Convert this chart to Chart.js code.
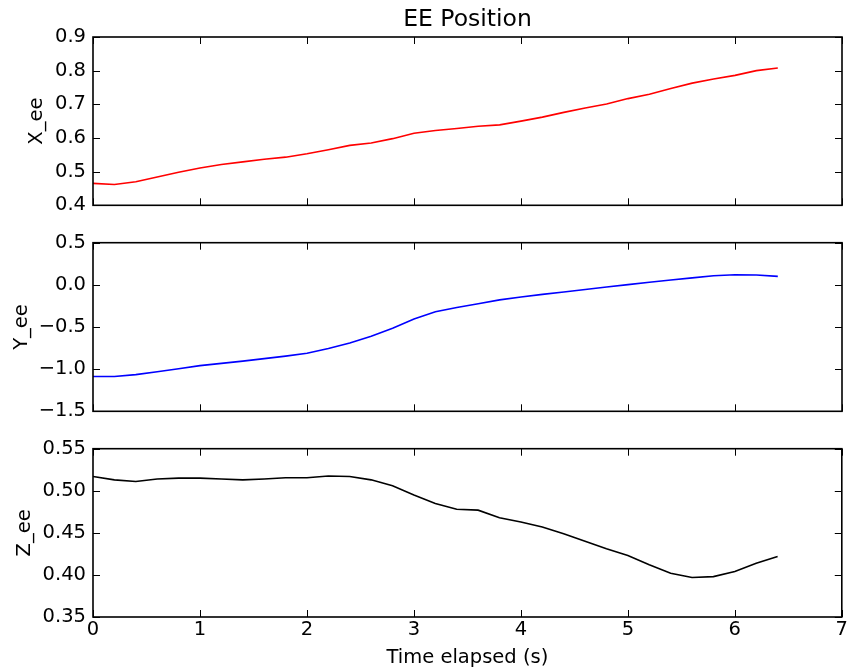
<!DOCTYPE html>
<html>
<head>
<meta charset="utf-8">
<title>EE Position</title>
<script src="https://cdn.jsdelivr.net/npm/chart.js@4.4.1/dist/chart.umd.min.js"></script>
<style>
  html, body { margin: 0; padding: 0; background: #fff; }
  #wrap { position: relative; width: 849px; height: 671px; }
  canvas { position: absolute; left: 0; }
</style>
</head>
<body>
<div id="wrap">
  <canvas id="xCanvas" width="849" height="224" style="top:0px"></canvas>
  <canvas id="yCanvas" width="849" height="206" style="top:224px"></canvas>
  <canvas id="zCanvas" width="849" height="241" style="top:430px"></canvas>
</div>
<script>
// time axis (s) and end-effector positions
const timeS = [0, 0.2, 0.4, 0.6, 0.8, 1.0, 1.2, 1.4, 1.6, 1.8, 2.0, 2.2, 2.4, 2.6, 2.8, 3.0,
  3.2, 3.4, 3.6, 3.8, 4.0, 4.2, 4.4, 4.6, 4.8, 5.0, 5.2, 5.4, 5.6, 5.8, 6.0, 6.2, 6.4];

const xEe = [0.465, 0.462, 0.470, 0.484, 0.498, 0.511, 0.521, 0.529, 0.537, 0.543, 0.553,
  0.565, 0.578, 0.585, 0.598, 0.614, 0.622, 0.628, 0.635, 0.639, 0.650, 0.662, 0.676,
  0.689, 0.701, 0.717, 0.730, 0.747, 0.763, 0.775, 0.786, 0.800, 0.808];

const yEe = [-1.087, -1.088, -1.065, -1.030, -0.995, -0.958, -0.932, -0.905, -0.875, -0.845,
  -0.812, -0.755, -0.690, -0.610, -0.515, -0.405, -0.318, -0.268, -0.225, -0.178, -0.145,
  -0.113, -0.085, -0.055, -0.025, 0.003, 0.030, 0.058, 0.083, 0.108, 0.120, 0.117, 0.100];

const zEe = [0.517, 0.513, 0.511, 0.514, 0.515, 0.515, 0.514, 0.513, 0.514, 0.5155, 0.5155,
  0.5175, 0.517, 0.513, 0.506, 0.495, 0.485, 0.478, 0.477, 0.468, 0.463, 0.457, 0.449,
  0.440, 0.431, 0.423, 0.412, 0.402, 0.397, 0.398, 0.404, 0.414, 0.422];

// tick values
const timeTicks = [0, 1, 2, 3, 4, 5, 6, 7];
const xEeTicks = [0.4, 0.5, 0.6, 0.7, 0.8, 0.9];
const yEeTicks = [-1.5, -1.0, -0.5, 0.0, 0.5];
const zEeTicks = [0.35, 0.40, 0.45, 0.50, 0.55];

const FONT = 'DejaVu Sans';
Chart.defaults.font.family = FONT;
Chart.defaults.font.size = 19.5;
Chart.defaults.color = '#000';

// matplotlib-style box with inward ticks on all four sides
const framePlugin = {
  id: 'frame',
  afterDatasetsDraw(chart) {
    const { ctx, chartArea: a, scales } = chart;
    const tick = 7;
    ctx.save();
    ctx.strokeStyle = '#000';
    ctx.lineWidth = 1;
    ctx.beginPath();
    for (const t of scales.x.ticks) {
      const px = Math.round(scales.x.getPixelForValue(t.value)) + 0.5;
      ctx.moveTo(px, a.bottom); ctx.lineTo(px, a.bottom - tick);
      ctx.moveTo(px, a.top); ctx.lineTo(px, a.top + tick);
    }
    for (const t of scales.y.ticks) {
      const py = Math.round(scales.y.getPixelForValue(t.value)) + 0.5;
      ctx.moveTo(a.left, py); ctx.lineTo(a.left + tick, py);
      ctx.moveTo(a.right, py); ctx.lineTo(a.right - tick, py);
    }
    ctx.stroke();
    ctx.lineWidth = 1.6;
    ctx.strokeRect(a.left, a.top, a.right - a.left, a.bottom - a.top);
    ctx.restore();
  }
};

const fmt = (digits) => (v) => Number(v).toFixed(digits).replace('-', '\u2212');

function makePanel(canvasId, cfg) {
  const points = timeS.map((t, i) => ({ x: t, y: cfg.values[i] }));
  return new Chart(document.getElementById(canvasId), {
    type: 'line',
    data: {
      datasets: [{
        data: points,
        borderColor: cfg.color,
        borderWidth: 1.6,
        pointRadius: 0,
        tension: 0,
        fill: false,
      }],
    },
    options: {
      responsive: false,
      animation: false,
      events: [],
      layout: { padding: { left: 0, right: 7, top: cfg.padTop, bottom: 0 } },
      plugins: {
        legend: { display: false },
        tooltip: { enabled: false },
        title: cfg.title ? {
          display: true,
          text: cfg.title,
          fullSize: false,
          color: '#000',
          font: { family: FONT, size: 23.5, weight: 'normal' },
          padding: { top: 6, bottom: 2.8 },
        } : { display: false },
      },
      scales: {
        x: {
          type: 'linear',
          min: 0,
          max: 7,
          afterBuildTicks: (s) => { s.ticks = timeTicks.map(v => ({ value: v })); },
          afterFit: (s) => { s.height = cfg.xHeight; },
          grid: { display: false, drawTicks: false },
          border: { display: false },
          ticks: { display: cfg.showX, padding: 1, callback: (v) => String(v) },
          title: cfg.showX ? {
            display: true,
            text: 'Time elapsed (s)',
            font: { family: FONT, size: 19.5 },
            padding: { top: 0, bottom: 1.3 },
          } : { display: false },
        },
        y: {
          min: cfg.min,
          max: cfg.max,
          afterBuildTicks: (s) => { s.ticks = cfg.ticks.map(v => ({ value: v })); },
          afterFit: (s) => { s.width = 93; },
          grid: { display: false, drawTicks: false },
          border: { display: false },
          ticks: { padding: 7, callback: fmt(cfg.digits) },
          title: {
            display: true,
            text: cfg.label,
            font: { family: FONT, size: 19.5 },
            padding: { top: cfg.labelX - 11.7, bottom: 0 },
          },
        },
      },
    },
    plugins: [framePlugin],
  });
}

makePanel('xCanvas', {
  values: xEe, color: '#ff0000', label: 'X_ee', labelX: 37,
  min: 0.4, max: 0.9, ticks: xEeTicks, digits: 1,
  title: 'EE Position', padTop: 0, xHeight: 17, showX: false,
});

makePanel('yCanvas', {
  values: yEe, color: '#0000ff', label: 'Y_ee', labelX: 22,
  min: -1.5, max: 0.5, ticks: yEeTicks, digits: 1,
  padTop: 17, xHeight: 18, showX: false,
});

makePanel('zCanvas', {
  values: zEe, color: '#000000', label: 'Z_ee', labelX: 25,
  min: 0.35, max: 0.55, ticks: zEeTicks, digits: 2,
  padTop: 17, xHeight: 54, showX: true,
});
</script>
</body>
</html>
